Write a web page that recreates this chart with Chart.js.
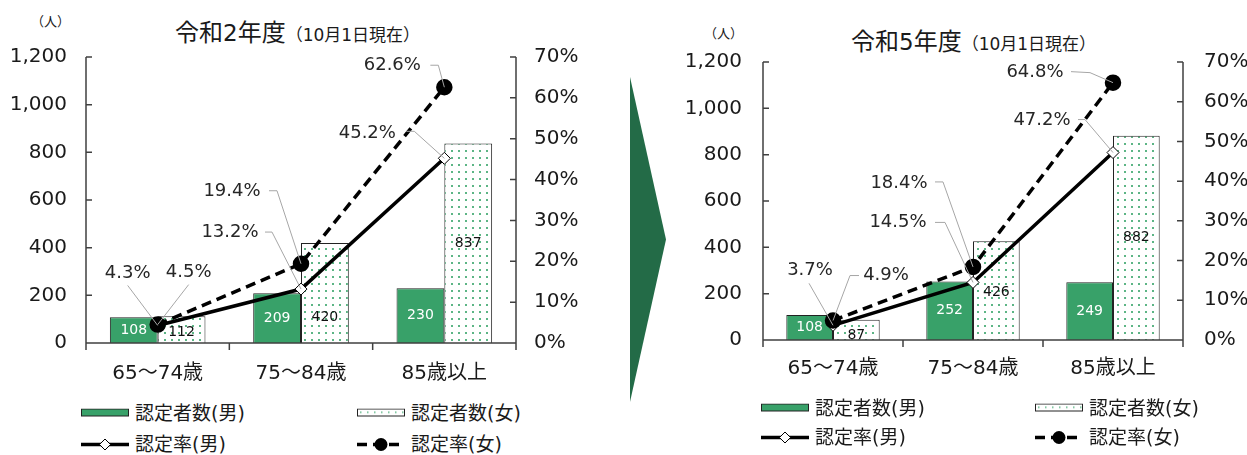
<!DOCTYPE html>
<html>
<head>
<meta charset="utf-8">
<title>認定者数と認定率</title>
<script src="https://cdn.jsdelivr.net/npm/chart.js"></script>
<style>
  body { margin: 0; width: 1247px; height: 455px; position: relative; background: #fff;
         font-family: "DejaVu Sans", "Noto Sans CJK JP", sans-serif; color: #1a1a1a; overflow: hidden; }
  canvas.chart { position: absolute; top: 0; }
  .title { position: absolute; white-space: nowrap; line-height: 1; }
  .title .big { font-family: "Noto Sans CJK JP", sans-serif; font-size: 24px; }
  .title .big b { font-family: "DejaVu Sans", sans-serif; font-weight: normal; font-size: 23px; }
  .title .small { font-size: 17px; }
  .unit { position: absolute; font-size: 13px; line-height: 1; font-family: "Noto Sans CJK JP", sans-serif; }
  .arrow { position: absolute; left: 630px; top: 77px; width: 36px; height: 325px; background: #236b47;
           clip-path: polygon(0 0, 100% 50%, 0 100%); }
  .item { position: absolute; display: flex; align-items: center; font-size: 19px; white-space: nowrap;
          transform: translateY(-50%); line-height: 1; }
  .item svg { margin-right: 6px; }
</style>
</head>
<body>
<div class="unit" style="left:31px; top:14px;">（人）</div>
<div class="title" style="left:175px; top:19px;"><span class="big">令和<b>2</b>年度</span><span class="small">（10月1日現在）</span></div>
<canvas id="c1" class="chart" width="610" height="400" style="left:0"></canvas>

<div class="arrow"></div>

<div class="unit" style="left:704px; top:26px;">（人）</div>
<div class="title" style="left:851px; top:28px;"><span class="big">令和<b>5</b>年度</span><span class="small">（10月1日現在）</span></div>
<canvas id="c2" class="chart" width="567" height="400" style="left:680px"></canvas>

<div id="legends"></div>

<script>
// data
const categories = ['65～74歳', '75～84歳', '85歳以上'];

const r2Male = [108, 209, 230];
const r2Female = [112, 420, 837];
const r2RateMale = [4.3, 13.2, 45.2];
const r2RateFemale = [4.5, 19.4, 62.6];

const r5Male = [108, 252, 249];
const r5Female = [87, 426, 882];
const r5RateMale = [3.7, 14.5, 47.2];
const r5RateFemale = [4.9, 18.4, 64.8];

const GREEN = '#38a169';
const FONT = '"DejaVu Sans", "Noto Sans CJK JP", sans-serif';
Chart.defaults.font.family = FONT;
Chart.defaults.color = '#1a1a1a';

function dotPattern() {
  const c = document.createElement('canvas');
  c.width = 7; c.height = 7;
  const g = c.getContext('2d');
  g.fillStyle = '#fff';
  g.fillRect(0, 0, 7, 7);
  g.fillStyle = '#5cb585';
  g.fillRect(3, 3, 2, 2);
  return g.createPattern(c, 'repeat');
}

// axis lines with inward ticks, category ticks downward
const axisLines = {
  id: 'axisLines',
  afterDraw(chart) {
    const { ctx, chartArea: a, scales } = chart;
    ctx.save();
    ctx.strokeStyle = '#404040';
    ctx.lineWidth = 1.5;
    ctx.beginPath();
    ctx.moveTo(a.left, a.top); ctx.lineTo(a.left, a.bottom);
    ctx.moveTo(a.right, a.top); ctx.lineTo(a.right, a.bottom);
    ctx.moveTo(a.left, a.bottom); ctx.lineTo(a.right, a.bottom);
    scales.y.ticks.forEach(t => {
      const y = scales.y.getPixelForValue(t.value);
      ctx.moveTo(a.left, y); ctx.lineTo(a.left + 6, y);
    });
    scales.y2.ticks.forEach(t => {
      const y = scales.y2.getPixelForValue(t.value);
      ctx.moveTo(a.right, y); ctx.lineTo(a.right - 6, y);
    });
    const n = chart.data.labels.length;
    for (let i = 0; i <= n; i++) {
      const x = a.left + i * (a.right - a.left) / n;
      ctx.moveTo(x, a.bottom); ctx.lineTo(x, a.bottom + 7);
    }
    ctx.stroke();
    ctx.restore();
  }
};

// values inside the bars
const barValues = {
  id: 'barValues',
  afterDatasetDraw(chart, args, opts) {
    const meta = args.meta;
    if (meta.type !== 'bar') return;
    const ds = chart.data.datasets[args.index];
    const shift = (opts.shift || {})[ds.label] || [];
    const { ctx } = chart;
    ctx.save();
    ctx.font = '14px ' + FONT;
    ctx.textAlign = 'center';
    ctx.textBaseline = 'middle';
    ctx.fillStyle = ds.valueColor;
    meta.data.forEach((bar, i) => {
      const y = (bar.y + bar.base) / 2 + (shift[i] || 0);
      ctx.fillText(ds.data[i], bar.x, y);
    });
    ctx.restore();
  }
};

// percent labels with leader lines
const rateLabels = {
  id: 'rateLabels',
  afterDraw(chart) {
    const { ctx } = chart;
    ctx.save();
    chart.data.datasets.forEach((ds, di) => {
      if (!ds.labelPos) return;
      const meta = chart.getDatasetMeta(di);
      meta.data.forEach((pt, i) => {
        const p = ds.labelPos[i];
        ctx.strokeStyle = '#a6a6a6';
        ctx.lineWidth = 1;
        ctx.beginPath();
        p.lead.forEach((q, k) => {
          if (k === 0) ctx.moveTo(pt.x + q[0], pt.y + q[1]);
          else ctx.lineTo(pt.x + q[0], pt.y + q[1]);
        });
        ctx.lineTo(pt.x, pt.y);
        ctx.stroke();
        ctx.font = '18px ' + FONT;
        ctx.fillStyle = '#262626';
        ctx.textAlign = 'center';
        ctx.textBaseline = 'middle';
        ctx.fillText(ds.data[i].toFixed(1) + '%', pt.x + p.dx, pt.y + p.dy);
      });
    });
    ctx.restore();
  }
};

function makeChart(id, males, females, rateM, rateF, o) {
  return new Chart(document.getElementById(id), {
    type: 'bar',
    data: {
      labels: categories,
      datasets: [
        { type: 'line', label: '認定率(女)', data: rateF, yAxisID: 'y2', order: 0,
          borderColor: '#000', borderWidth: 3.5, borderDash: [10, 6],
          pointStyle: 'circle', pointRadius: 6.5, pointBackgroundColor: '#000', pointBorderColor: '#000',
          labelPos: o.femalePos },
        { type: 'line', label: '認定率(男)', data: rateM, yAxisID: 'y2', order: 1,
          borderColor: '#000', borderWidth: 3.5,
          pointStyle: 'rectRot', pointRadius: 6, pointBackgroundColor: '#fff', pointBorderColor: '#000',
          pointBorderWidth: 1, labelPos: o.malePos },
        { label: '認定者数(男)', data: males, yAxisID: 'y', order: 2,
          backgroundColor: GREEN, borderColor: '#222', borderWidth: 1, valueColor: '#fff',
          categoryPercentage: 0.667, barPercentage: 1 },
        { label: '認定者数(女)', data: females, yAxisID: 'y', order: 2,
          backgroundColor: dotPattern(), borderColor: '#222', borderWidth: 1, valueColor: '#111',
          categoryPercentage: 0.667, barPercentage: 1 }
      ]
    },
    options: {
      responsive: false,
      animation: false,
      devicePixelRatio: 1,
      layout: { padding: { top: o.top, left: 0, right: 0, bottom: o.bottom } },
      plugins: { legend: { display: false }, tooltip: { enabled: false },
                 barValues: { shift: o.shift } },
      scales: {
        x: {
          grid: { display: false }, border: { display: false },
          ticks: { font: { size: 20 }, padding: o.xpad },
          afterFit(s) { s.height = o.xh; }
        },
        y: {
          position: 'left', min: 0, max: 1200,
          grid: { display: false }, border: { display: false },
          ticks: { stepSize: 200, font: { size: 20 }, padding: o.lpad,
                   callback: v => v.toLocaleString('en-US') },
          afterFit(s) { s.width = o.lw; }
        },
        y2: {
          position: 'right', min: 0, max: 70,
          grid: { display: false }, border: { display: false },
          ticks: { stepSize: 10, font: { size: 20 }, padding: o.rpad, callback: v => v + '%' },
          afterFit(s) { s.width = o.rw; }
        }
      }
    },
    plugins: [axisLines, barValues, rateLabels]
  });
}

makeChart('c1', r2Male, r2Female, r2RateMale, r2RateFemale, {
  top: 57, bottom: 17, xh: 40, lw: 86, rw: 94, lpad: 11, rpad: 10, xpad: 11,
  shift: { '認定者数(女)': [3, 24, 0] },
  malePos: [
    { dx: -30, dy: -52, lead: [[-30, -40]] },
    { dx: -71, dy: -57, lead: [[-36, -57], [-29, -57]] },
    { dx: -77, dy: -25, lead: [[-38, -27], [-30, -27]] }
  ],
  femalePos: [
    { dx: 31, dy: -52, lead: [[31, -40]] },
    { dx: -69, dy: -72, lead: [[-32, -73], [-24, -73]] },
    { dx: -52, dy: -22, lead: [[-14, -22], [-6, -22]] }
  ]
});

makeChart('c2', r5Male, r5Female, r5RateMale, r5RateFemale, {
  top: 62, bottom: 20, xh: 40, lw: 83, rw: 64, lpad: 13, rpad: 13, xpad: 9,
  shift: { '認定者数(女)': [5, 2, 0] },
  malePos: [
    { dx: -23, dy: -55, lead: [[-24, -42]] },
    { dx: -75, dy: -60, lead: [[-38, -60], [-28, -60]] },
    { dx: -71, dy: -32, lead: [[-35, -33], [-28, -33]] }
  ],
  femalePos: [
    { dx: 53, dy: -45, lead: [[26, -45], [17, -45]] },
    { dx: -74, dy: -84, lead: [[-38, -85], [-30, -85]] },
    { dx: -78, dy: -10, lead: [[-42, -11], [-23, -10]] }
  ]
});

// legends
const sw = {
  male: `<svg width="48" height="9"><rect x="0.5" y="0.5" width="47" height="7" fill="${GREEN}" stroke="#222"/></svg>`,
  female: `<svg width="48" height="9"><defs><pattern id="dp" width="7" height="7" patternUnits="userSpaceOnUse"><rect x="3" y="3" width="1.5" height="1.5" fill="#5cb585"/></pattern></defs><rect x="0.5" y="0.5" width="47" height="7" fill="#fff" stroke="#222"/><rect x="1" y="1" width="46" height="6" fill="url(#dp)"/></svg>`,
  rateM: `<svg width="48" height="14"><line x1="0" y1="7" x2="48" y2="7" stroke="#000" stroke-width="3.5"/><polygon points="24,1.5 29.5,7 24,12.5 18.5,7" fill="#fff" stroke="#000" stroke-width="1"/></svg>`,
  rateF: `<svg width="48" height="14"><line x1="0" y1="7" x2="48" y2="7" stroke="#000" stroke-width="3.5" stroke-dasharray="10,6"/><circle cx="24" cy="7" r="6.5" fill="#000"/></svg>`
};
function legend(x1, x2, y1, y2) {
  return [
    [x1, y1, sw.male, '認定者数(男)'], [x2, y1, sw.female, '認定者数(女)'],
    [x1, y2, sw.rateM, '認定率(男)'], [x2, y2, sw.rateF, '認定率(女)']
  ].map(([x, y, s, t]) => `<div class="item" style="left:${x}px; top:${y}px;">${s}<span>${t}</span></div>`).join('');
}
document.getElementById('legends').innerHTML = legend(81, 357, 413, 444) + legend(761, 1035, 408, 437);
</script>
</body>
</html>
